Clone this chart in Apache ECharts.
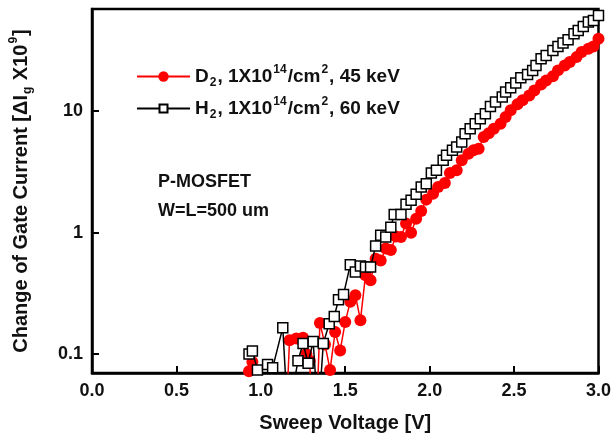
<!DOCTYPE html>
<html><head><meta charset="utf-8">
<script src="https://cdn.jsdelivr.net/npm/echarts/dist/echarts.min.js"></script>
<style>html,body{margin:0;padding:0;background:#fff}#c{width:614px;height:439px}</style>
</head><body><div id="c"></div><script>
// D2, 1X10^14/cm^2, 45 keV  (sweep voltage [V], change of gate current)
const d2V = [0.93,0.95,0.98,1.15,1.17,1.21,1.25,1.27,1.29,1.30,1.33,1.35,1.38,1.41,1.44,1.47,1.50,1.53,1.56,1.59,1.62,1.65,1.68,1.71,1.74,1.77,1.80,1.83,1.86,1.89,1.92,1.95,1.98,2.02,2.05,2.09,2.12,2.16,2.19,2.23,2.26,2.29,2.32,2.35,2.38,2.42,2.45,2.48,2.52,2.55,2.59,2.62,2.66,2.69,2.73,2.76,2.80,2.83,2.87,2.90,2.94,2.97,3.00];
const d2I = [0.072,0.086,0.03,0.03,0.13,0.134,0.136,0.1,0.088,0.03,0.03,0.18,0.12,0.074,0.152,0.107,0.184,0.27,0.305,0.19,0.445,0.405,0.61,0.59,0.74,0.72,0.93,0.92,1.19,1.0,1.30,1.51,1.87,2.09,2.38,2.56,3.10,3.26,3.94,4.47,4.76,4.91,6.13,6.6,7.18,7.89,8.95,10.2,11.4,12.3,13.5,14.8,16.6,17.9,19.4,21.7,23.8,25.4,27.9,30.7,32.7,34.2,39.5];
// H2, 1X10^14/cm^2, 60 keV
const h2V = [0.93,0.95,0.98,1.04,1.07,1.13,1.16,1.22,1.25,1.28,1.31,1.34,1.37,1.405,1.435,1.46,1.49,1.53,1.56,1.59,1.62,1.65,1.68,1.71,1.74,1.77,1.79,1.83,1.86,1.89,1.92,1.95,1.98,2.01,2.04,2.08,2.10,2.135,2.16,2.19,2.21,2.24,2.27,2.30,2.33,2.36,2.39,2.43,2.45,2.48,2.51,2.54,2.58,2.61,2.63,2.66,2.69,2.73,2.76,2.79,2.82,2.855,2.88,2.91,2.94,2.97,3.00];
const h2I = [0.100,0.106,0.074,0.082,0.077,0.165,0.03,0.088,0.122,0.084,0.127,0.03,0.122,0.178,0.204,0.28,0.31,0.545,0.474,0.53,0.52,0.52,0.777,0.95,0.92,1.11,1.41,1.41,1.71,1.85,2.07,2.38,2.53,3.10,3.26,3.94,4.33,4.76,5.07,5.57,6.53,7.18,7.89,8.67,9.53,10.96,11.9,13.1,14.4,15.6,17.1,18.9,20.1,21.7,23.8,27.0,28.8,31.7,34.2,36.4,38.8,43.4,46.3,49.9,54.2,56.0,61.5];
const xTicks = [0.0,0.5,1.0,1.5,2.0,2.5,3.0];
const yTicks = [0.1,1,10];
const seriesNames = ['D2','H2'];

const FONT = '"Liberation Sans", Arial, sans-serif';
const TXT = '#111';
const richBase = (fs) => ({
  m: {fontSize: fs, fontWeight: 'bold', fontFamily: FONT, color: TXT, lineHeight: fs + 6},
  sub: {fontSize: Math.round(fs*0.62), fontWeight: 'bold', fontFamily: FONT, color: TXT, verticalAlign: 'bottom', lineHeight: Math.round(fs*0.62), padding: [0,1,0,1]},
  sup: {fontSize: Math.round(fs*0.62), fontWeight: 'bold', fontFamily: FONT, color: TXT, verticalAlign: 'top', lineHeight: Math.round(fs*0.62), padding: [0,1,0,1]}
});
const legendText = {
  D2: '{m|D}{sub|2}{m|, 1X10}{sup|14}{m|/cm}{sup|2}{m|, 45 keV}',
  H2: '{m|H}{sub|2}{m|, 1X10}{sup|14}{m|/cm}{sup|2}{m|, 60 keV}'
};
const pairs = (xs, ys) => xs.map((x, i) => [x, ys[i]]);

const chart = echarts.init(document.getElementById('c'), null, {renderer: 'canvas'});
const legendCommon = {
  orient: 'vertical', itemWidth: 53, itemGap: 10,
  formatter: n => legendText[n],
  textStyle: {rich: richBase(19)}, selectedMode: false
};
chart.setOption({
  animation: false,
  backgroundColor: '#fff',
  grid: {left: 92, right: 14, top: 9, bottom: 66, show: true, borderColor: '#000', borderWidth: 2.5, containLabel: false},
  legend: [
    Object.assign({data: [seriesNames[0]], left: 131, top: 59, itemHeight: 13}, legendCommon),
    Object.assign({data: [seriesNames[1]], left: 131, top: 91, itemHeight: 10}, legendCommon)
  ],
  graphic: [
    {type: 'text', left: 158, top: 173, style: {text: 'P-MOSFET', font: 'bold 18px ' + FONT, fill: TXT}},
    {type: 'text', left: 158, top: 202, style: {text: 'W=L=500 um', font: 'bold 18px ' + FONT, fill: TXT}}
  ],
  xAxis: {
    type: 'value', min: xTicks[0], max: xTicks[xTicks.length-1], interval: 0.5,
    name: 'Sweep Voltage [V]', nameLocation: 'middle', nameGap: 40,
    nameTextStyle: {fontSize: 20, fontWeight: 'bold', fontFamily: FONT, color: TXT},
    axisLine: {lineStyle: {color: '#000', width: 2.5}},
    axisTick: {inside: true, length: 7, lineStyle: {color: '#000', width: 2}},
    axisLabel: {margin: 9, fontSize: 18, fontWeight: 'bold', fontFamily: FONT, color: TXT, formatter: v => v.toFixed(1)},
    splitLine: {show: false}
  },
  yAxis: {
    type: 'log', logBase: 10, min: 0.0698, max: 69.5,
    name: '{m|Change of Gate Current [ΔI}{sub|g}{m| X10}{sup|9}{m|]}', nameLocation: 'middle', nameRotate: 90, nameGap: 58,
    nameTextStyle: {rich: richBase(20)},
    axisLine: {lineStyle: {color: '#000', width: 2.5}},
    axisTick: {inside: true, length: 7, lineStyle: {color: '#000', width: 2}},
    minorTick: {show: false},
    axisLabel: {margin: 9, fontSize: 18, fontWeight: 'bold', fontFamily: FONT, color: TXT,
      formatter: v => { const t = yTicks.find(t => Math.abs(v/t - 1) < 1e-3); return t === undefined ? '' : String(t); }},
    splitLine: {show: false}
  },
  series: [
    {name: seriesNames[0], type: 'line', data: pairs(d2V, d2I), symbol: 'circle', symbolSize: 12, showAllSymbol: true,
     itemStyle: {color: '#ff0000'}, lineStyle: {color: '#ff0000', width: 1.5}, z: 2},
    {name: seriesNames[1], type: 'line', data: pairs(h2V, h2I), symbol: 'rect', symbolSize: 10, showAllSymbol: true,
     itemStyle: {color: '#fff', borderColor: '#000', borderWidth: 1.5}, lineStyle: {color: '#000', width: 1.5}, z: 3}
  ]
});
</script></body></html>
